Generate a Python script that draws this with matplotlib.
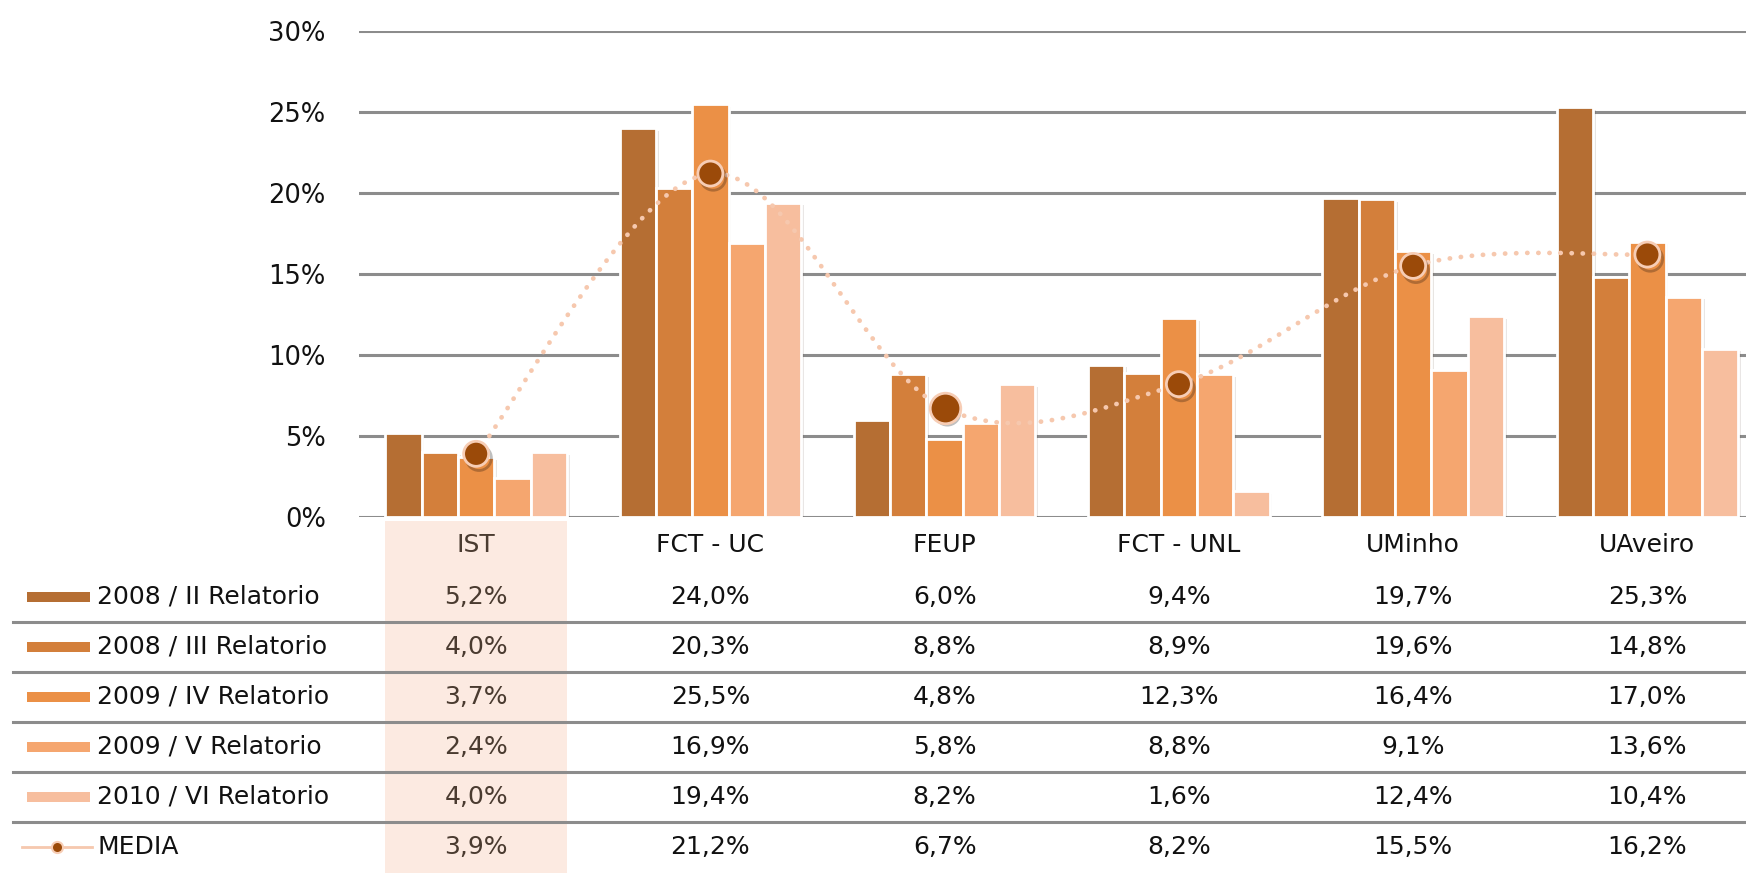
import numpy as np
import matplotlib
matplotlib.use("Agg")
import matplotlib.pyplot as plt
from matplotlib.path import Path
from matplotlib.patches import PathPatch, Rectangle
from matplotlib.lines import Line2D
from matplotlib.transforms import blended_transform_factory
import matplotlib.patheffects as pe

# Datos
escuelas = ['IST', 'FCT - UC', 'FEUP', 'FCT - UNL', 'UMinho', 'UAveiro']
series = ['2008 / II Relatorio', '2008 / III Relatorio', '2009 / IV Relatorio',
          '2009 / V Relatorio', '2010 / VI Relatorio']
rel_2008_ii = [5.2, 24.0, 6.0, 9.4, 19.7, 25.3]
rel_2008_iii = [4.0, 20.3, 8.8, 8.9, 19.6, 14.8]
rel_2009_iv = [3.7, 25.5, 4.8, 12.3, 16.4, 17.0]
rel_2009_v = [2.4, 16.9, 5.8, 8.8, 9.1, 13.6]
rel_2010_vi = [4.0, 19.4, 8.2, 1.6, 12.4, 10.4]
media = [3.9, 21.2, 6.7, 8.2, 15.5, 16.2]

colores = ['#B56E33', '#D37F3B', '#EB9046', '#F5A66F', '#F7BE9E']
c_media_linea = '#F6C8AE'
c_media_punto = '#9B4A09'
c_resalte = '#FCEAE1'
c_grid = '#8C8C8C'

W, H = 1746, 873
fig = plt.figure(figsize=(W / 100, H / 100), dpi=100)
plt.rcParams['font.family'] = ['DejaVu Sans']
fs = 18

# ejes: izquierda 359px, 0% en 517px, 30% en 31px
ax = fig.add_axes([359 / W, 1 - 517 / H, (W - 359) / W, (517 - 31) / H])
ax.set_xlim(-0.5, -0.5 + (W - 359) / 234.25)
ax.set_ylim(0, 30)
ax.set_yticks(range(0, 31, 5))
ax.set_yticklabels([f'{v}%' for v in range(0, 31, 5)], fontsize=18.5, color='#111111')
ax.tick_params(axis='y', length=0, pad=24)
ax.set_xticks([])
for s in ax.spines.values():
    s.set_visible(False)
ax.grid(axis='y', color=c_grid, lw=2.2)
ax.set_axisbelow(True)

valores = [rel_2008_ii, rel_2008_iii, rel_2009_iv, rel_2009_v, rel_2010_vi]
x = np.arange(len(escuelas))
ancho = 0.155
sombra = [pe.SimplePatchShadow(offset=(2, -2), alpha=0.12), pe.Normal()]
for i, (vals, col) in enumerate(zip(valores, colores)):
    ax.bar(x + (i - 2) * ancho, vals, ancho, color=col, edgecolor='white',
           linewidth=2, zorder=2, path_effects=sombra)

# linea suavizada de la media (Bezier tipo Catmull-Rom, como Excel)
pts = np.column_stack([x, media]).astype(float)
verts = [pts[0]]
codes = [Path.MOVETO]
n = len(pts)
for i in range(n - 1):
    p0 = pts[max(i - 1, 0)]
    p1 = pts[i]
    p2 = pts[i + 1]
    p3 = pts[min(i + 2, n - 1)]
    verts += [p1 + (p2 - p0) / 6, p2 - (p3 - p1) / 6, p2]
    codes += [Path.CURVE4] * 3
curva = PathPatch(Path(verts, codes), fill=False, edgecolor=c_media_linea,
                  lw=3.4, linestyle=(0, (0.05, 2.3)), capstyle='round', zorder=3)
ax.add_patch(curva)
ax.plot(x, media, 'o', ms=18, mfc=c_media_punto, mec='#F7CDB5', mew=2, zorder=4,
        path_effects=[pe.SimpleLineShadow(offset=(2, -3), alpha=0.25), pe.Normal()])
ax.plot(x[2], media[2], 'o', ms=22, mfc=c_media_punto, mec='#F7CDB5', mew=2, zorder=5)

# tabla de datos
tr = blended_transform_factory(ax.transData, fig.transFigure)
fig.patches.append(Rectangle((-0.39, 0), 0.78, 1 - 521 / H, transform=tr,
                             facecolor=c_resalte, edgecolor='none', zorder=0))

fy = lambda py: 1 - py / H
for j, nom in enumerate(escuelas):
    col = '#4A3B30' if j == 0 else '#111111'
    fig.text(x[j], fy(545), nom, transform=tr, ha='center', va='center',
             fontsize=fs, color=col)

filas = valores + [media]
for r, vals in enumerate(filas):
    yc = 597 + 50 * r
    for j, v in enumerate(vals):
        col = '#4A3B30' if j == 0 else '#111111'
        fig.text(x[j], fy(yc), f'{v:.1f}%'.replace('.', ','), transform=tr,
                 ha='center', va='center', fontsize=fs, color=col)
    if r < len(filas) - 1:
        fig.lines.append(Line2D([13 / W, 1], [fy(yc + 25)] * 2, color=c_grid,
                                lw=2.2, transform=fig.transFigure))

# leyenda en la tabla
for r, (nom, col) in enumerate(zip(series, colores)):
    yc = 597 + 50 * r
    fig.patches.append(Rectangle((27 / W, fy(yc + 5)), 63 / W, 10 / H,
                                 transform=fig.transFigure, facecolor=col,
                                 edgecolor='none'))
    fig.text(97 / W, fy(yc), nom, ha='left', va='center', fontsize=fs, color='#111111')
yc = 597 + 50 * 5
fig.lines.append(Line2D([22 / W, 92 / W], [fy(yc)] * 2, color=c_media_linea, lw=2,
                        transform=fig.transFigure))
fig.lines.append(Line2D([57 / W], [fy(yc)], marker='o', ms=8, mfc=c_media_punto,
                        mec='#F7CDB5', mew=1.5, transform=fig.transFigure))
fig.text(97 / W, fy(yc), 'MEDIA', ha='left', va='center', fontsize=fs, color='#111111')

fig.savefig('out.png', dpi=100)
